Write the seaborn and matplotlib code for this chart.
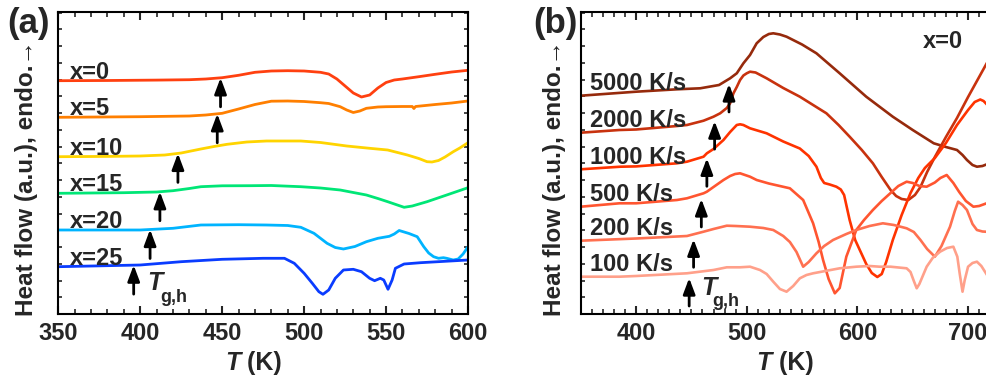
import numpy as np
import pandas as pd
import matplotlib
matplotlib.use("Agg")
import matplotlib.pyplot as plt
from matplotlib.ticker import MultipleLocator, NullFormatter
import seaborn as sns

# ---------------- data: panel (a), composition series ----------------
labels_a = ["x=0", "x=5", "x=10", "x=15", "x=20", "x=25"]

T_a0 = [350, 380, 410, 430, 440, 450, 460, 470, 480, 490, 500, 510, 515, 520, 525, 530, 535, 540, 545, 550, 555, 560, 570, 580, 590, 600]
hf_a0 = [233.3, 233.5, 233.9, 234.3, 235.0, 236.3, 238.7, 241.7, 243.0, 243.3, 243.0, 241.7, 240.0, 235.0, 228.0, 221.0, 217.0, 219.0, 226.0, 231.5, 234.0, 235.0, 237.3, 239.7, 242.0, 243.7]

T_a5 = [350, 400, 430, 440, 450, 460, 470, 480, 490, 500, 510, 515, 522, 526, 530, 534, 538, 545, 550, 560, 566, 567, 568, 580, 590, 600]
hf_a5 = [196.7, 197.3, 198.0, 199.0, 200.7, 205.0, 209.5, 212.8, 213.0, 212.5, 211.3, 210.5, 207.3, 204.0, 201.5, 203.0, 205.7, 207.0, 207.3, 207.5, 207.5, 205.5, 207.5, 209.5, 211.0, 213.0]

T_a10 = [350, 380, 400, 415, 425, 437, 445, 453, 465, 477, 498, 510, 526, 540, 551, 563, 570, 575, 578, 582, 586, 591, 595, 600]
hf_a10 = [157.3, 157.6, 158.0, 159.0, 161.0, 165.0, 167.5, 169.7, 172.0, 173.0, 173.0, 171.5, 168.0, 165.7, 164.0, 159.0, 155.5, 152.3, 152.0, 153.5, 157.0, 162.3, 166.0, 171.3]

T_a15 = [350, 390, 410, 420, 430, 437, 450, 467, 480, 498, 510, 522, 530, 538, 545, 551, 556, 561, 566, 575, 587, 600]
hf_a15 = [120.7, 121.3, 122.0, 123.3, 125.5, 127.3, 128.2, 128.3, 128.5, 127.3, 126.0, 124.0, 121.5, 119.0, 115.5, 112.3, 109.5, 106.7, 108.0, 112.3, 119.0, 126.3]

T_a20 = [350, 400, 420, 437, 460, 477, 490, 498, 506, 514, 519, 524, 531, 538, 545, 552, 555, 558, 561, 564, 569, 573, 576, 579, 582, 585, 587, 591, 594, 597, 600]
hf_a20 = [84.0, 84.0, 85.7, 89.0, 89.3, 89.0, 88.5, 86.7, 80.7, 70.7, 66.5, 65.0, 67.5, 72.3, 75.7, 77.7, 80.0, 83.5, 82.0, 80.5, 77.3, 67.3, 61.0, 57.3, 55.7, 56.3, 55.7, 54.0, 55.0, 60.0, 67.3]

T_a25 = [350, 400, 425, 450, 475, 488, 494, 500, 505, 509, 511.5, 515, 519, 524, 530, 535, 540, 543, 546.5, 548.6, 551.2, 553.7, 555.7, 561, 571, 600]
hf_a25 = [47.3, 49.0, 52.3, 54.7, 55.7, 55.7, 50.7, 40.7, 30.7, 22.3, 19.7, 24.0, 35.7, 44.0, 44.7, 42.3, 35.7, 33.3, 35.7, 34.0, 24.7, 34.0, 45.7, 50.0, 51.3, 54.0]

tg_a = [449, 447, 423, 412, 406, 396]

# ---------------- data: panel (b), heating-rate series (x=0) ----------------
labels_b = ["5000 K/s", "2000 K/s", "1000 K/s", "500 K/s", "200 K/s", "100 K/s"]

T_b5000 = [350, 400, 437, 458, 475, 485, 491, 497, 503, 509, 515, 520, 524, 530, 536, 550, 563, 584, 608, 632, 650, 669, 680, 690, 695, 699, 704, 708, 713, 720]
hf_b5000 = [218.3, 222.3, 224.7, 225.7, 229.0, 235.7, 240.7, 250.7, 259.0, 270.7, 277.0, 280.0, 280.7, 279.5, 277.3, 269.5, 260.7, 240.7, 217.3, 197.3, 184.0, 170.7, 167.0, 164.0, 159.0, 154.0, 149.0, 147.3, 148.0, 151.0]

T_b2000 = [350, 385, 400, 437, 446, 461, 470, 476, 482, 485, 488, 491, 494, 497, 500, 503, 508, 518, 533, 548, 560, 572, 583, 593, 604, 614, 622, 630, 635, 640, 646, 652, 657, 663, 670, 680, 690, 700, 710, 720]
hf_b2000 = [181.3, 184.0, 184.5, 188.0, 189.0, 193.3, 197.3, 200.7, 206.0, 210.7, 220.7, 227.0, 234.0, 238.5, 240.7, 242.3, 241.5, 235.7, 226.0, 217.3, 209.0, 200.7, 189.0, 177.3, 164.0, 150.7, 137.0, 124.0, 118.0, 115.0, 114.0, 119.0, 127.0, 142.0, 157.0, 177.0, 196.0, 217.0, 237.0, 257.0]

T_b1000 = [350, 386, 400, 437, 446, 461, 464, 470, 479, 485, 491, 494, 497, 503, 518, 533, 548, 556, 563, 567, 570, 575, 581, 585, 588, 593, 598, 603, 608, 613, 618, 622, 626, 632, 640, 648, 655, 661, 670, 680, 690, 700, 706, 711, 714, 720]
hf_b1000 = [144.7, 147.3, 147.6, 150.7, 152.3, 157.3, 160.7, 165.0, 174.0, 182.0, 189.0, 189.7, 189.0, 185.7, 180.7, 172.5, 165.5, 158.0, 147.3, 136.0, 131.0, 129.5, 127.3, 124.5, 119.0, 94.0, 74.0, 62.0, 50.0, 41.0, 37.0, 40.0, 52.0, 74.0, 99.0, 121.0, 136.0, 146.0, 156.0, 171.0, 189.0, 204.0, 212.0, 214.5, 213.0, 206.0]

T_b500 = [350, 385, 400, 437, 446, 461, 464, 470, 479, 485, 489.5, 494, 503, 509, 520, 539, 551, 560, 565, 569, 574, 579.6, 584, 590, 599, 606, 614, 622, 630, 637, 644.5, 650, 656, 662.6, 670, 675, 680.7, 686.7, 692, 698, 704.8, 710, 720]
hf_b500 = [107.3, 110.7, 110.7, 114.0, 115.7, 120.7, 122.3, 127.0, 134.0, 138.0, 140.0, 140.7, 137.3, 134.0, 130.5, 125.7, 114.0, 90.7, 72.0, 54.0, 35.0, 20.7, 26.0, 57.3, 84.0, 94.0, 104.0, 113.0, 121.0, 128.0, 132.3, 131.0, 128.0, 127.3, 131.5, 136.0, 139.0, 131.0, 122.0, 113.0, 107.3, 108.0, 112.0]

T_b200 = [350, 400, 437, 446, 461, 470, 482, 490, 503, 515, 524, 533, 539, 545, 551, 556, 563, 570, 578, 590, 599, 611, 623, 633, 644.5, 651, 657, 663, 670, 676, 683.7, 688, 691, 695, 699, 704, 708, 713, 720]
hf_b200 = [73.3, 75.5, 77.5, 78.0, 82.3, 85.0, 88.3, 88.0, 87.3, 86.0, 84.0, 78.0, 72.0, 62.0, 47.3, 52.0, 60.7, 68.0, 74.0, 80.0, 84.0, 88.0, 90.7, 89.0, 85.7, 82.0, 74.0, 65.0, 57.3, 68.0, 87.3, 103.0, 112.3, 109.0, 104.0, 90.0, 84.0, 82.5, 82.0]

T_b100 = [350, 385, 400, 446, 470, 482, 494, 503, 512, 518, 524, 530, 536, 542, 548, 554, 560, 584, 599, 611, 620, 630, 644.5, 648, 651, 653.6, 656, 662.6, 668, 674.7, 681, 686.7, 690.3, 692.5, 695, 697, 700, 704, 708, 712, 720]
hf_b100 = [37.3, 37.3, 38.0, 40.7, 44.0, 46.7, 46.7, 47.3, 44.0, 40.0, 32.3, 25.0, 22.3, 28.0, 35.7, 39.0, 40.7, 45.7, 47.3, 48.0, 47.3, 47.3, 45.7, 42.0, 33.0, 25.7, 30.0, 47.3, 56.0, 62.3, 66.0, 67.3, 57.3, 40.0, 22.3, 34.0, 47.3, 51.0, 52.3, 48.0, 34.0]

tg_b = [484, 471, 464, 459, 452, 448]

# ---------------- styles ----------------
pal_a = ["#ff4010", "#ff7f00", "#ffd400", "#00e676", "#00b4ff", "#0a3cff"]
pal_b = ["#962a0c", "#c8320e", "#ff3300", "#ff5530", "#ff7050", "#ffa08a"]

sns.set_theme(style="ticks")
plt.rcParams["font.family"] = ["Liberation Sans", "DejaVu Sans"]
plt.rcParams["font.weight"] = "bold"
plt.rcParams["axes.linewidth"] = 1.5
plt.rcParams["axes.edgecolor"] = "black"

series_a = [(T_a0, hf_a0), (T_a5, hf_a5), (T_a10, hf_a10), (T_a15, hf_a15), (T_a20, hf_a20), (T_a25, hf_a25)]
series_b = [(T_b5000, hf_b5000), (T_b2000, hf_b2000), (T_b1000, hf_b1000), (T_b500, hf_b500), (T_b200, hf_b200), (T_b100, hf_b100)]


def frame(series, labels):
    rows = []
    for (T, hf), lab in zip(series, labels):
        rows.append(pd.DataFrame({"T": T, "hf": hf, "series": lab}))
    return pd.concat(rows, ignore_index=True)


df_a = frame(series_a, labels_a)
df_b = frame(series_b, labels_b)

W, H = 987, 382
fig = plt.figure(figsize=(W / 100, H / 100), dpi=100)
ax_a = fig.add_axes([58.3 / W, 1 - 314 / H, 409.7 / W, 302 / H])
ax_b = fig.add_axes([580.7 / W, 1 - 314 / H, 409.5 / W, 302 / H])

sns.lineplot(data=df_a, x="T", y="hf", hue="series", hue_order=labels_a, palette=pal_a,
             estimator=None, legend=False, linewidth=2.0, ax=ax_a)
sns.lineplot(data=df_b, x="T", y="hf", hue="series", hue_order=labels_b, palette=pal_b,
             estimator=None, legend=False, linewidth=1.9, ax=ax_b)

arrow_style = dict(arrowstyle="-|>,head_length=0.8,head_width=0.3", mutation_scale=12,
                   color="black", lw=2.0, shrinkA=0, shrinkB=0)


def decorate(ax, series, labels, tgs, xlim, major, lab_T, lab_dy, gap, alen, tg_text):
    ax.set_xlim(*xlim)
    ax.set_ylim(0, 302)
    for (T, hf), lab, tg in zip(series, labels, tgs):
        ax.text(lab_T, hf[0] + lab_dy, lab, fontsize=17, fontweight="bold", ha="left", va="baseline")
        ytip = np.interp(tg, T, hf) - gap
        ax.annotate("", xy=(tg, ytip), xytext=(tg, ytip - alen), arrowprops=arrow_style)
    (tx, ty), (sx, sy) = tg_text
    ax.text(tx, ty, "T", fontsize=18, fontweight="bold", style="italic", ha="left", va="baseline")
    ax.text(sx, sy, "g,h", fontsize=13, fontweight="bold", ha="left", va="baseline")
    ax.xaxis.set_major_locator(MultipleLocator(major))
    ax.xaxis.set_minor_locator(MultipleLocator(10))
    ax.yaxis.set_major_locator(MultipleLocator(16.75))
    ax.yaxis.set_major_formatter(NullFormatter())
    ax.tick_params(axis="x", which="major", direction="in", length=6, width=1.5, top=True,
                   labelsize=17, pad=6)
    ax.tick_params(axis="x", which="minor", direction="in", length=3.5, width=1.2, top=True)
    ax.tick_params(axis="y", which="major", direction="in", length=3, width=1.2, right=True)
    for lbl in ax.get_xticklabels():
        lbl.set_fontweight("bold")
    ax.set_xlabel("")
    ax.set_ylabel("Heat flow (a.u.), endo.\u2192", fontsize=17.5, fontweight="bold")
    for sp in ax.spines.values():
        sp.set_linewidth(1.5)


decorate(ax_a, series_a, labels_a, tg_a, (350, 600), 50, 357, 2.0, 0.0, 29,
         ((404.0, 24.0), (412.0, 12.0)))
decorate(ax_b, series_b, labels_b, tg_b, (350, 720), 100, 358.4, 5.5, 5.0, 28,
         ((459.0, 19.0), (468.5, 8.0)))

ax_a.yaxis.set_label_coords(-0.05, 0.45)
ax_b.yaxis.set_label_coords(-0.037, 0.45)

# x-axis titles: italic T + " (K)"
for ax, xc in ((ax_a, 0.4435), (ax_b, 0.467)):
    ax.text(xc, -0.185, "T", transform=ax.transAxes, fontsize=18, fontweight="bold",
            style="italic", ha="right", va="baseline")
    ax.text(xc, -0.185, " (K)", transform=ax.transAxes, fontsize=18, fontweight="bold",
            ha="left", va="baseline")

ax_b.text(0.885, 0.88, "x=0", transform=ax_b.transAxes, fontsize=17, fontweight="bold",
          ha="center", va="baseline")

fig.text(7 / W, 1 - 33 / H, "(a)", fontsize=25, fontweight="bold", ha="left", va="baseline")
fig.text(533 / W, 1 - 33 / H, "(b)", fontsize=25, fontweight="bold", ha="left", va="baseline")

fig.savefig("out.png", dpi=100)
